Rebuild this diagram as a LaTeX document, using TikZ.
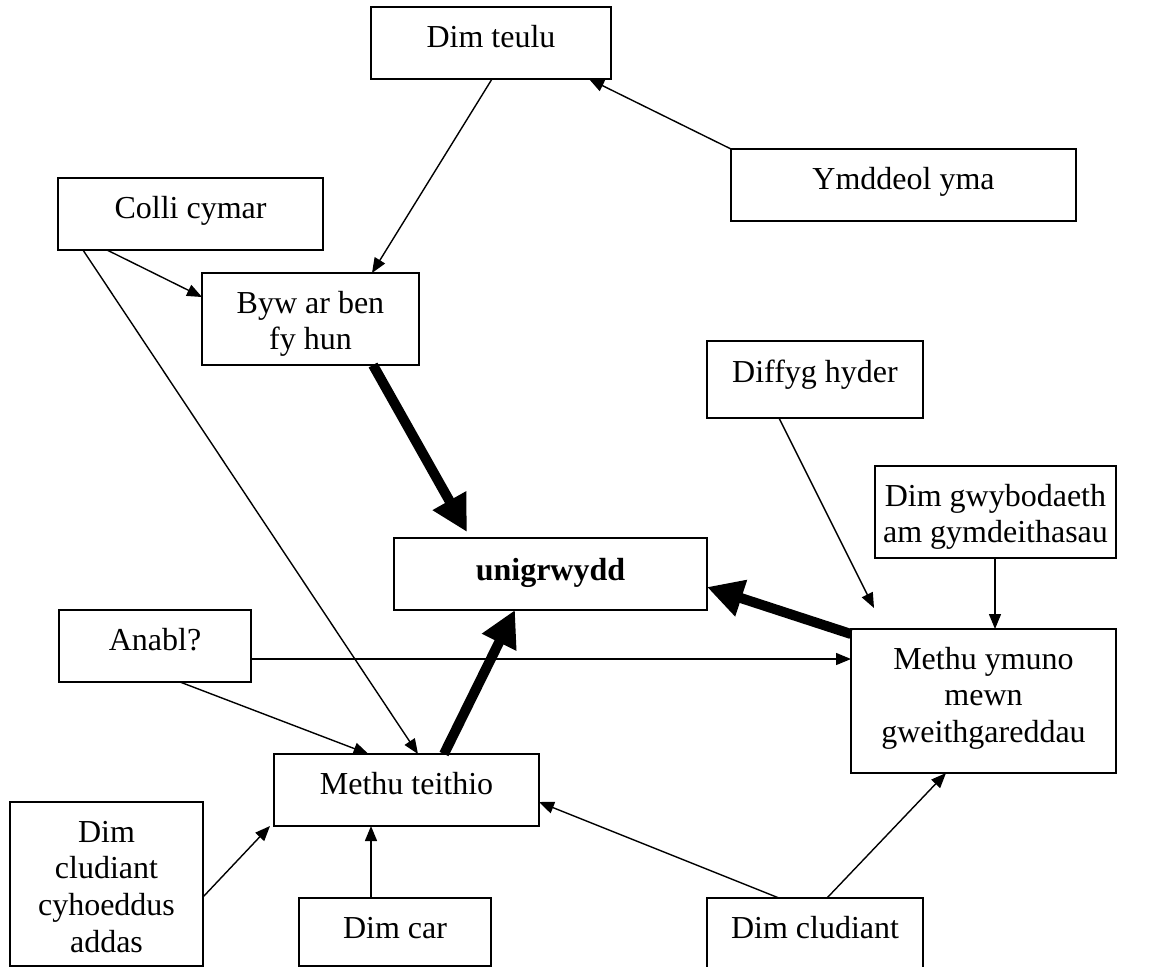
\documentclass[tikz,border=0pt]{standalone}
\usepackage{fontspec}
\setmainfont{Liberation Serif}
\usetikzlibrary{arrows.meta,calc}
\tikzset{
  box/.style={draw, line width=1.9pt, rectangle, inner sep=0pt, outer sep=0pt},
  txt/.style={inner sep=0pt, outer sep=0pt, anchor=base, font=\fontsize{32pt}{36.7pt}\selectfont},
  thinarrow/.style={line width=1.4pt, -{Triangle[length=15pt,width=12pt]}},
  thickarrow/.style={line width=10pt, -{Triangle[length=36pt,width=36pt]}},
}
\newcommand{\ctxt}[1]{\parbox[t]{400pt}{\centering #1}}
\begin{document}
\begin{tikzpicture}[x=1pt,y=-1pt]
\useasboundingbox (0,0) rectangle (1160,967);
\clip (0,0) rectangle (1160,967);
\fill[white] (0,0) rectangle (1160,967);

% boxes
\node[box, minimum width=240pt, minimum height=72pt]  (dt)  at (491,43) {};
\node[box, minimum width=345pt, minimum height=72pt]  (ym)  at (903.5,185) {};
\node[box, minimum width=265pt, minimum height=72pt]  (cc)  at (190.5,214) {};
\node[box, minimum width=217pt, minimum height=92pt]  (byw) at (310.5,319) {};
\node[box, minimum width=216pt, minimum height=77pt]  (dh)  at (815,379.5) {};
\node[box, minimum width=241pt, minimum height=92pt]  (dg)  at (995.5,512) {};
\node[box, minimum width=313pt, minimum height=72pt]  (un)  at (550.5,574) {};
\node[box, minimum width=192pt, minimum height=72pt]  (an)  at (155,646) {};
\node[box, minimum width=265pt, minimum height=144pt] (my)  at (983.5,701) {};
\node[box, minimum width=265pt, minimum height=72pt]  (mt)  at (406.5,790) {};
\node[box, minimum width=193pt, minimum height=164pt] (dcc) at (106.5,884) {};
\node[box, minimum width=192pt, minimum height=68pt]  (dc)  at (395,932) {};
\node[box, minimum width=216pt, minimum height=92pt]  (dcl) at (815,944) {};

% texts
\node[txt] (dt-t)  at ($(dt.north west)+(120,40)$) {Dim teulu};
\node[txt] (ym-t)  at ($(ym.north west)+(172.5,40)$) {Ymddeol yma};
\node[txt] (cc-t)  at ($(cc.north west)+(132.5,40)$) {Colli cymar};
\node[txt] (byw-t) at ($(byw.north west)+(108.5,40)$) {\ctxt{Byw ar ben\\fy hun}};
\node[txt] (dh-t)  at ($(dh.north west)+(108,41)$) {Diffyg hyder};
\node[txt] (dg-t)  at ($(dg.north west)+(120.5,40)$) {\ctxt{Dim gwybodaeth\\am gymdeithasau}};
\node[txt] (un-t)  at ($(un.north west)+(156.5,42)$) {\bfseries unigrwydd};
\node[txt] (an-t)  at ($(an.north west)+(96,40)$) {Anabl?};
\node[txt] (my-t)  at ($(my.north west)+(132.5,40)$) {\ctxt{Methu ymuno\\mewn\\gweithgareddau}};
\node[txt] (mt-t)  at ($(mt.north west)+(132.5,40)$) {Methu teithio};
\node[txt] (dcc-t) at ($(dcc.north west)+(96.5,40)$) {\ctxt{Dim\\cludiant\\cyhoeddus\\addas}};
\node[txt] (dc-t)  at ($(dc.north west)+(96,40)$) {Dim car};
\node[txt] (dcl-t) at ($(dcl.north west)+(108,40)$) {Dim cludiant};

\coordinate (dhend) at (874,608);

% thin connectors
\draw[thinarrow] (ym.north west) -- ($(dt.north west)+(218,72)$);
\draw[thinarrow] ($(dt.north west)+(121,72)$) -- ($(byw.north west)+(170,0)$);
\draw[thinarrow] ($(cc.north west)+(49,72)$) -- ($(byw.north west)+(0,24)$);
\draw[thinarrow] ($(cc.north west)+(25,72)$) -- ($(mt.north west)+(144,0)$);
\draw[thinarrow] ($(an.north west)+(121,72)$) -- ($(mt.north west)+(94.5,0)$);
\draw[thinarrow] ($(an.north west)+(192,49)$) -- ($(my.north west)+(0,30)$);
\draw[thinarrow] ($(dh.north west)+(72,77)$) -- (dhend);
\draw[thinarrow] ($(dg.north west)+(120,92)$) -- ($(my.north west)+(144,0)$);
\draw[thinarrow] ($(dcc.north west)+(193,95)$) -- ($(mt.north west)+(-4,72)$);
\draw[thinarrow] ($(dc.north west)+(72,0)$) -- ($(mt.north west)+(97,72)$);
\draw[thinarrow] ($(dcl.north west)+(72,0)$) -- ($(mt.north west)+(265,48)$);
\draw[thinarrow] ($(dcl.north west)+(120,0)$) -- ($(my.north west)+(95,144)$);

% thick connectors
\draw[thickarrow] ($(byw.north west)+(171,92)$) -- ($(un.north west)+(73,-6)$);
\draw[thickarrow] ($(mt.north west)+(170,0)$) -- ($(un.north west)+(121,72)$);
\draw[thickarrow] ($(my.north west)+(0,5)$) -- ($(un.north west)+(313,49)$);
\end{tikzpicture}
\end{document}
